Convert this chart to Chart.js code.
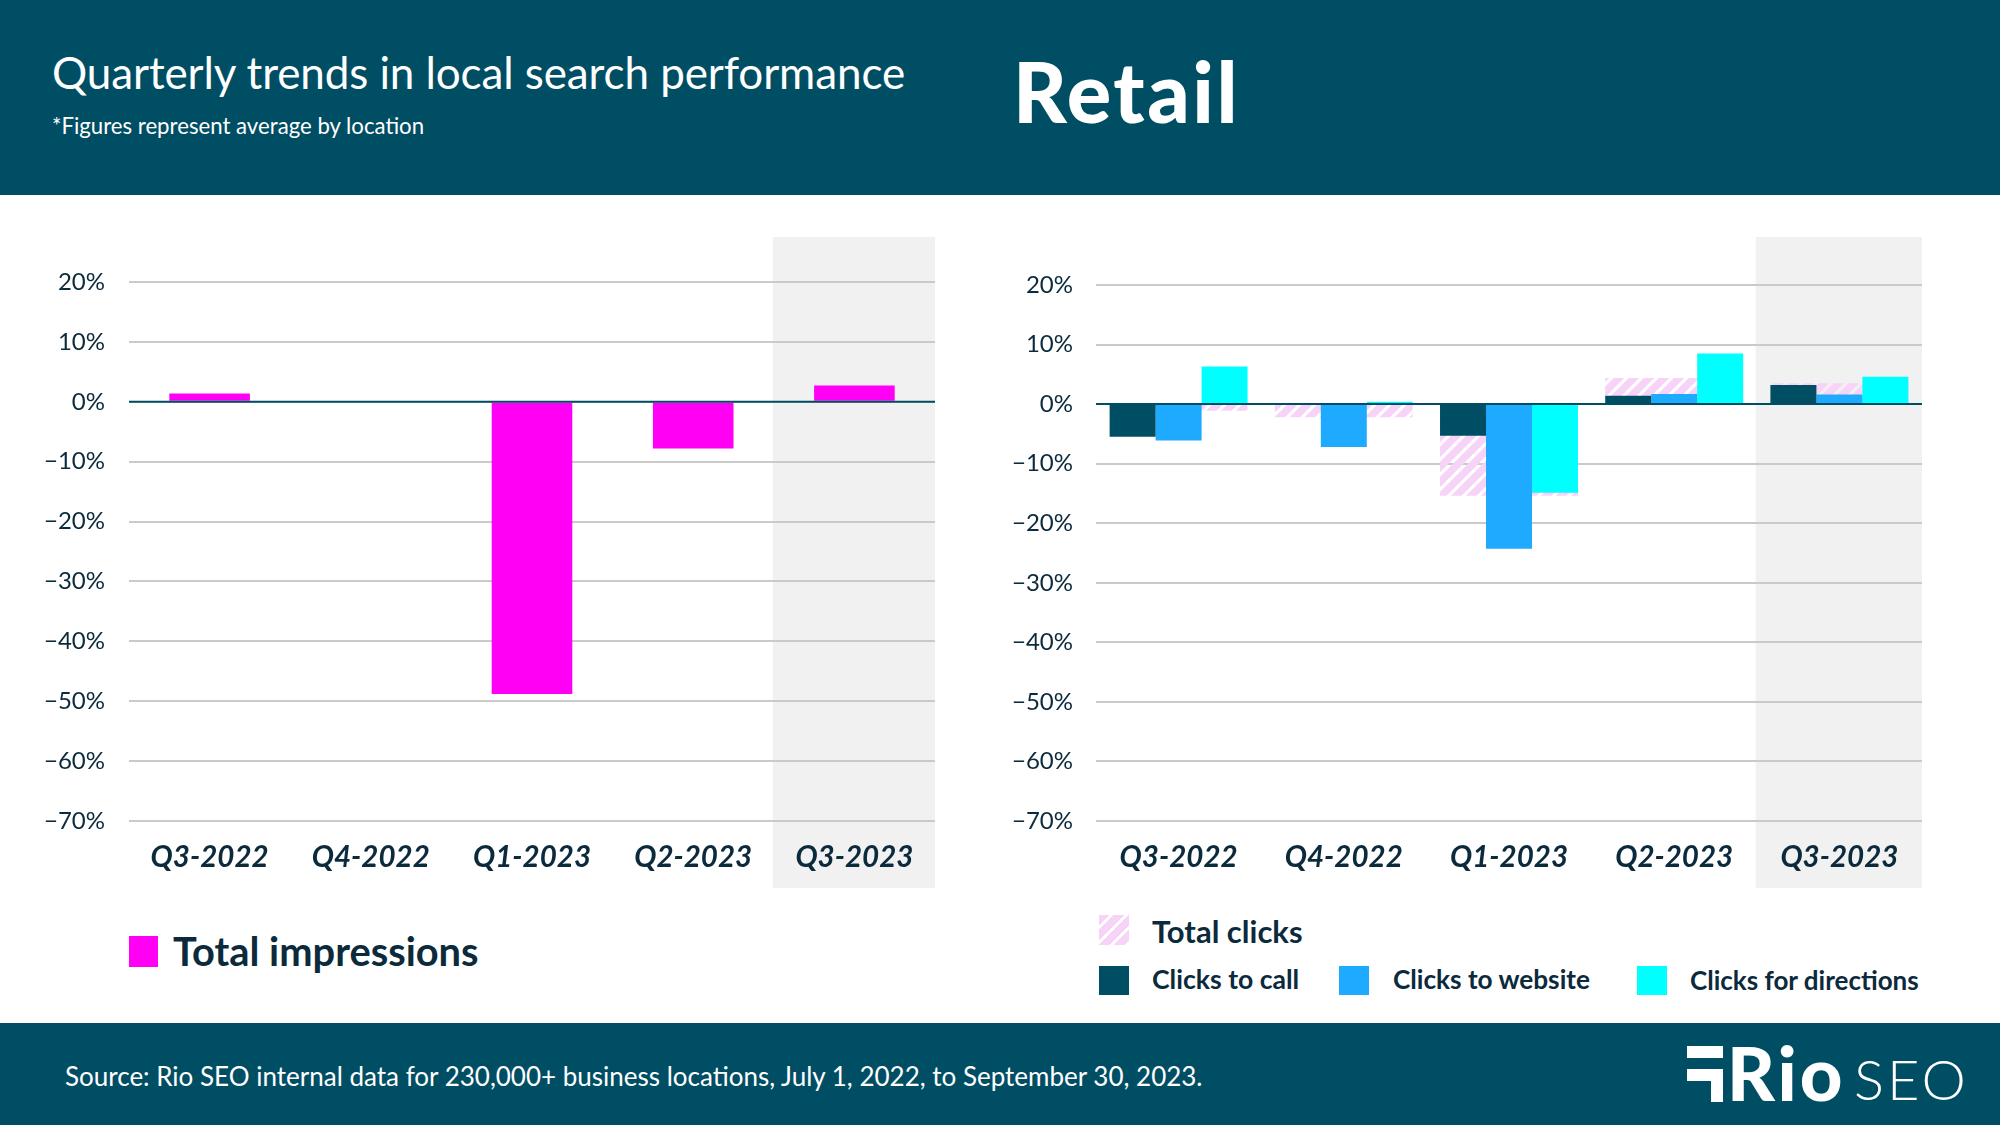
<!DOCTYPE html>
<html>
<head>
<meta charset="utf-8">
<title>Retail</title>
<script src="https://cdn.jsdelivr.net/npm/chart.js@4"></script>
<style>
  html, body { margin: 0; padding: 0; background: #fff; }
  body { width: 2000px; height: 1125px; position: relative; overflow: hidden; font-family: Lato, sans-serif; color: #0b2a3c; }
  .abs { position: absolute; white-space: nowrap; }
  #top { left: 0; top: 0; width: 2000px; height: 195px; background: #004e64; }
  #bottom { left: 0; top: 1023px; width: 2000px; height: 102px; background: #004e64; }
  canvas { position: absolute; }
  .swatch { position: absolute; }
  .legend-label { font-weight: 700; line-height: 1; }
  .white { color: #fff; }
</style>
</head>
<body>
<div class="abs" id="top"></div>
<div class="abs" id="bottom"></div>
<div class="abs white" style="left:52px;top:47px;font-size:44px;font-weight:400;line-height:50px;letter-spacing:-0.1px">Quarterly trends in local search performance</div>
<div class="abs white" style="left:52px;top:113px;font-size:22.2px;font-weight:400;line-height:26px">*Figures represent average by location</div>
<div class="abs white" style="left:1013px;top:41px;font-size:83px;font-weight:900;line-height:100px;letter-spacing:2.6px">Retail</div>
<div class="abs white" style="left:65px;top:1060px;font-size:26px;font-weight:400;line-height:32px">Source: Rio SEO internal data for 230,000+ business locations, July 1, 2022, to September 30, 2023.</div>
<div class="abs white" style="left:1727px;top:1034px;font-size:74px;font-weight:900;line-height:78px;letter-spacing:3px">Rio</div>
<div class="abs white" style="left:1854px;top:1047px;font-size:56px;font-weight:300;line-height:64px;letter-spacing:3px">SEO</div>
<div class="abs" style="left:1687px;top:1046px;width:36px;height:12px;background:#fff"></div>
<div class="abs" style="left:1687px;top:1069px;width:36px;height:12px;background:#fff"></div>
<div class="abs" style="left:1711px;top:1069px;width:12px;height:33px;background:#fff"></div>
<canvas id="leftChart" style="left:20px;top:237px;width:915px;height:651px"></canvas>
<canvas id="rightChart" style="left:980px;top:237px;width:942px;height:651px"></canvas>
<script>
const quarters = ["Q3-2022", "Q4-2022", "Q1-2023", "Q2-2023", "Q3-2023"];
const yTickValues = [20, 10, 0, -10, -20, -30, -40, -50, -60, -70];
const yTickLabels = ["20%", "10%", "0%", "−10%", "−20%", "−30%", "−40%", "−50%", "−60%", "−70%"];

const totalImpressions = [1.4, 0, -48.8, -7.8, 2.7];
const totalClicks = [-1.1, -2.2, -15.4, 4.4, 3.5];
const clicksToCall = [-5.5, 0, -5.3, 1.4, 3.2];
const clicksToWebsite = [-6.1, -7.2, -24.3, 1.7, 1.6];
const clicksForDirections = [6.3, 0.4, -14.9, 8.5, 4.6];

const navy = "#004e64";
const ink = "#0b2a3c";
const magenta = "#ff00f5";
const blue = "#1eaaff";
const cyan = "#00ffff";
const hatchPink = "#f7d3f7";

// diagonal stripes for total clicks
function hatchPattern() {
  const size = 15;
  const c = document.createElement("canvas");
  c.width = size;
  c.height = size;
  const x = c.getContext("2d");
  x.strokeStyle = hatchPink;
  x.lineWidth = 7.5;
  [[-size, size, size, -size], [0, size, size, 0], [0, 2 * size, 2 * size, 0]].forEach(l => {
    x.beginPath();
    x.moveTo(l[0], l[1]);
    x.lineTo(l[2], l[3]);
    x.stroke();
  });
  return x.createPattern(c, "repeat");
}

// grey band behind the last quarter, zero line over the bars
const bandPlugin = {
  id: "band",
  beforeDraw(chart) {
    const { ctx, chartArea, scales } = chart;
    const step = chartArea.width / quarters.length;
    const left = scales.x.getPixelForValue(quarters.length - 1) - step / 2;
    ctx.save();
    ctx.fillStyle = "#f1f1f1";
    ctx.fillRect(left - 1, 0, chartArea.right - left + 1, chart.height);
    ctx.restore();
  },
  afterDatasetsDraw(chart) {
    const { ctx, chartArea, scales } = chart;
    const y = scales.y.getPixelForValue(0);
    ctx.save();
    ctx.strokeStyle = navy;
    ctx.lineWidth = 2;
    ctx.beginPath();
    ctx.moveTo(chartArea.left, y);
    ctx.lineTo(chartArea.right, y);
    ctx.stroke();
    ctx.restore();
  }
};

function chartOptions(axisWidth, topPad, tickPad) {
  return {
    responsive: false,
    animation: false,
    layout: { padding: { top: topPad, left: 0, right: 0, bottom: 0 } },
    plugins: { legend: { display: false }, tooltip: { enabled: false } },
    scales: {
      x: {
        grid: { display: false },
        border: { display: false },
        afterFit: s => { s.height = 67; },
        ticks: { color: ink, padding: 11, maxRotation: 0, autoSkip: false, font: { family: "Lato", size: 29.5, weight: "700", style: "italic" } }
      },
      y: {
        min: -70,
        max: 20,
        afterBuildTicks: s => { s.ticks = yTickValues.map(v => ({ value: v })); },
        afterFit: s => { s.width = axisWidth; },
        grid: { color: "#cacaca", lineWidth: 2, drawTicks: false },
        border: { display: false },
        ticks: {
          color: ink,
          padding: tickPad,
          autoSkip: false,
          font: { family: "Lato", size: 24, weight: "400" },
          callback: (v, i) => yTickLabels[i]
        }
      }
    }
  };
}

function sizeCanvas(id) {
  const c = document.getElementById(id);
  c.width = parseInt(c.style.width);
  c.height = parseInt(c.style.height);
  return c;
}

function addLegend(items) {
  items.forEach(it => {
    const s = document.createElement("div");
    s.className = "swatch";
    s.style.cssText = `left:${it.x}px;top:${it.y}px;width:${it.w}px;height:${it.h}px;background:${it.color}`;
    document.body.appendChild(s);
    const t = document.createElement("div");
    t.className = "abs legend-label";
    t.style.cssText = `left:${it.tx}px;top:${it.y + it.h / 2 - it.size / 2 - 1 + (it.dy || 0)}px;font-size:${it.size}px`;
    t.textContent = it.label;
    document.body.appendChild(t);
  });
}

new Chart(sizeCanvas("leftChart"), {
  type: "bar",
  plugins: [bandPlugin],
  data: {
    labels: quarters,
    datasets: [{ label: "Total impressions", data: totalImpressions, backgroundColor: magenta, categoryPercentage: 0.5, barPercentage: 1 }]
  },
  options: chartOptions(109, 45, 24)
});

new Chart(sizeCanvas("rightChart"), {
  type: "bar",
  plugins: [bandPlugin],
  data: {
    labels: quarters,
    datasets: [
      { label: "Total clicks", data: totalClicks, backgroundColor: hatchPattern(), grouped: false, categoryPercentage: 1, barPercentage: 0.835, order: 2 },
      { label: "Clicks to call", data: clicksToCall, backgroundColor: navy, categoryPercentage: 0.835, barPercentage: 1, order: 1 },
      { label: "Clicks to website", data: clicksToWebsite, backgroundColor: blue, categoryPercentage: 0.835, barPercentage: 1, order: 1 },
      { label: "Clicks for directions", data: clicksForDirections, backgroundColor: cyan, categoryPercentage: 0.835, barPercentage: 1, order: 1 }
    ]
  },
  options: chartOptions(116, 48, 23)
});

const hatchCss = `repeating-linear-gradient(135deg, ${hatchPink} 0 7.5px, #fff 7.5px 10.6px)`;
addLegend([
  { label: "Total impressions", color: magenta, x: 129, y: 936, w: 29, h: 31, tx: 173, size: 39.8 },
  { label: "Total clicks", color: hatchCss, x: 1099, y: 915, w: 30, h: 30, tx: 1152, size: 31, dy: 2 },
  { label: "Clicks to call", color: navy, x: 1099, y: 966, w: 30, h: 29, tx: 1152, size: 26.6 },
  { label: "Clicks to website", color: blue, x: 1339, y: 966, w: 30, h: 29, tx: 1393, size: 26.2 },
  { label: "Clicks for directions", color: cyan, x: 1637, y: 966, w: 30, h: 29, tx: 1690, size: 26 }
]);
</script>
</body>
</html>
